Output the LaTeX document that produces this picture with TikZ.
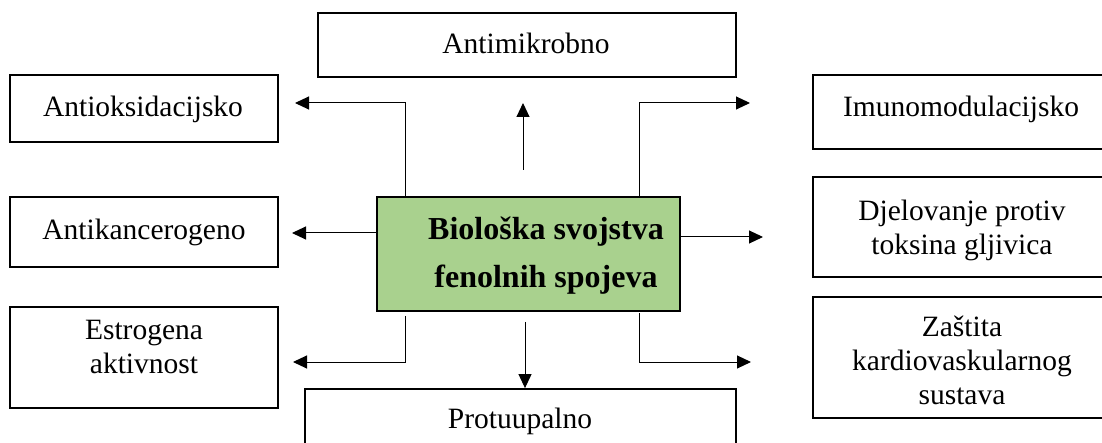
\documentclass[tikz,border=0pt]{standalone}
\usepackage{fontspec}
\setmainfont{Liberation Serif}
\usetikzlibrary{arrows.meta}
\definecolor{boxgreen}{HTML}{A9D18E}
\begin{document}
\begin{tikzpicture}[x=1pt,y=-1pt,
  box/.style={draw, line width=1.8pt, inner sep=0pt},
  lbl/.style={align=center, font=\fontsize{29.5}{34}\selectfont, inner sep=0pt},
  conn/.style={line width=1pt, -{Triangle[length=14pt,width=13pt]}},
  ]
\useasboundingbox (0,0) rectangle (1102,443);
% boxes
\node[box, minimum width=418pt, minimum height=64pt] (mik) at (527,45) {};
\node[box, minimum width=268pt, minimum height=67pt] (oks) at (144,108.5) {};
\node[box, minimum width=268pt, minimum height=70pt] (kan) at (144,232) {};
\node[box, minimum width=268pt, minimum height=101pt] (est) at (144,357.5) {};
\node[box, minimum width=307pt, minimum height=74pt] (imu) at (966.5,112) {};
\node[box, minimum width=307pt, minimum height=100pt] (dje) at (966.5,227) {};
\node[box, minimum width=307pt, minimum height=121pt] (zas) at (966.5,357.5) {};
\node[box, minimum width=431pt, minimum height=81pt] (pro) at (520.5,429.5) {};
\node[draw, line width=1.2pt, fill=boxgreen, minimum width=303pt, minimum height=114pt, inner sep=0pt] (cen) at (528.5,254) {};
% labels
\node[lbl, anchor=base] (mikT) at (526,54) {Antimikrobno};
\node[lbl, anchor=base] (oksT) at (143,117) {Antioksidacijsko};
\node[lbl, anchor=base] (kanT) at (144,240) {Antikancerogeno};
\node[lbl] (estT) at (144,347) {Estrogena\\aktivnost};
\node[lbl, anchor=base] (imuT) at (961,117) {Imunomodulacijsko};
\node[lbl] (djeT) at (962,230) {Djelovanje protiv\\toksina gljivica};
\node[lbl] (zasT) at (962,360) {Zaštita\\kardiovaskularnog\\sustava};
\node[lbl, anchor=base] (proT) at (520,428) {Protuupalno};
\node[align=center, inner sep=0pt, font=\fontsize{32}{48}\selectfont\bfseries] (cenT) at (546,256) {Biološka svojstva\\fenolnih spojeva};
% connector coordinates
\coordinate (a1s) at (405,197);
\coordinate (a1e) at (295,103);
\coordinate (a2s) at (523,170);
\coordinate (a2e) at (523,103);
\coordinate (a3s) at (639,197);
\coordinate (a3e) at (750,103);
\coordinate (a4e) at (292,233);
\coordinate (a5e) at (763,237);
\coordinate (a6s) at (405,316);
\coordinate (a6e) at (293,362);
\coordinate (a7s) at (525,322);
\coordinate (a8s) at (639,313);
\coordinate (a8e) at (751,362);
% connectors
\draw[conn] (a1s) |- (a1e);
\draw[conn] (a2s) -- (a2e);
\draw[conn] (a3s) |- (a3e);
\draw[conn] (cen.west |- a4e) -- (a4e);
\draw[conn] (cen.east |- a5e) -- (a5e);
\draw[conn] (a6s) |- (a6e);
\draw[conn] (a7s) -- (a7s |- pro.north);
\draw[conn] (a8s) |- (a8e);
\end{tikzpicture}
\end{document}
